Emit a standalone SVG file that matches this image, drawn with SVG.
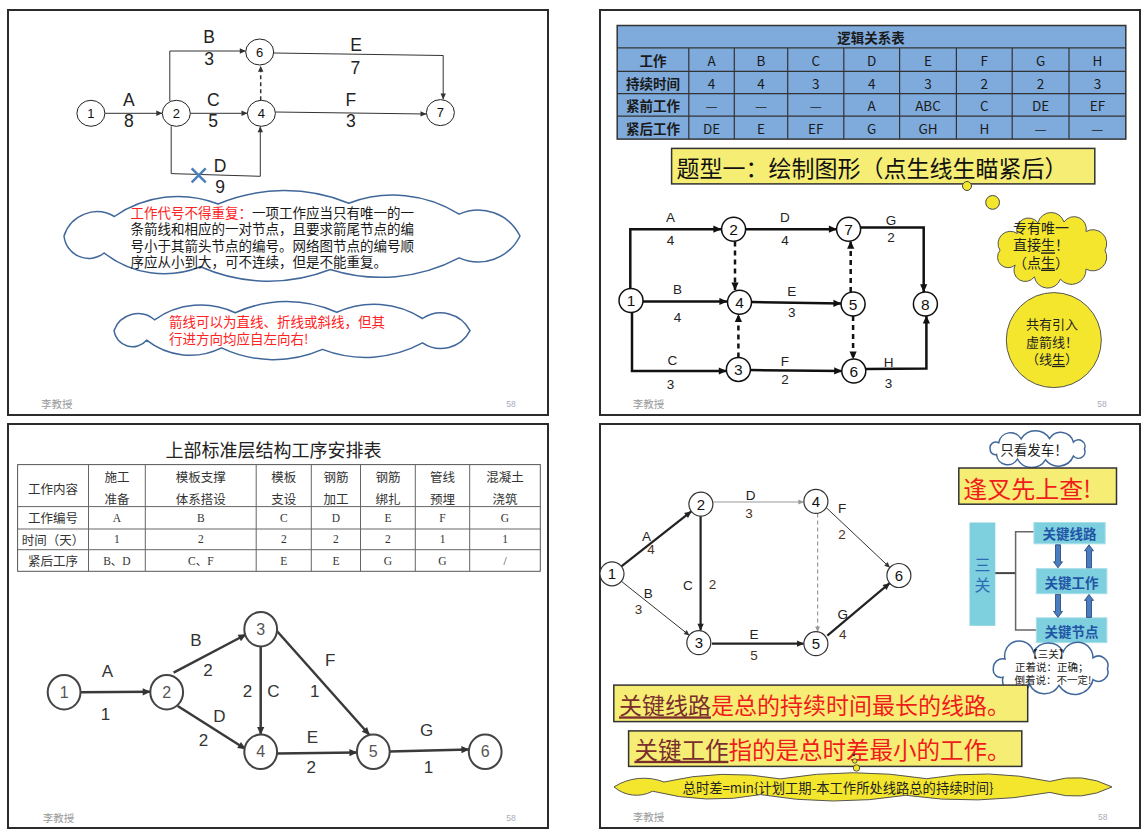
<svg xmlns="http://www.w3.org/2000/svg" width="1147" height="836" viewBox="0 0 1147 836">
<defs>
<style>
.cj{font-family:"Noto Sans CJK SC","Noto Sans CJK JP",sans-serif}
.m{text-anchor:middle}
.c{dominant-baseline:central}
.panel{fill:#fff;stroke:#2b2b2b;stroke-width:2}
.ft{font-family:"Noto Sans CJK SC",sans-serif;font-size:10.5px;fill:#9a9a9a}
.pg{font-family:"Liberation Sans",sans-serif;font-size:8.5px;fill:#aab}
.tlnode ellipse{fill:#fff;stroke:#222;stroke-width:1}
.tlnode text{font-family:"Liberation Sans",Arial,sans-serif;font-size:13px;fill:#111;text-anchor:middle;dominant-baseline:central}
.tl-lbl{font-family:"Liberation Sans",Arial,sans-serif;font-size:17.5px;fill:#222;text-anchor:middle}
.trnode circle{fill:#fff;stroke:#111;stroke-width:1.5}
.trnode text{font-family:"Liberation Sans",Arial,sans-serif;font-size:15.5px;fill:#111;text-anchor:middle;dominant-baseline:central}
.tr-lbl{font-family:"Liberation Sans",Arial,sans-serif;font-size:13.5px;fill:#222;text-anchor:middle;dominant-baseline:central}
.blnode ellipse{fill:#fff;stroke:#444;stroke-width:2}
.blnode text{font-family:"Liberation Sans",Arial,sans-serif;font-size:16px;fill:#555;text-anchor:middle;dominant-baseline:central}
.bl-lbl{font-family:"Liberation Sans",Arial,sans-serif;font-size:17px;fill:#333;text-anchor:middle;dominant-baseline:central}
.brnode circle{fill:#fff;stroke:#333;stroke-width:1.2}
.brnode text{font-family:"Liberation Sans",Arial,sans-serif;font-size:15px;fill:#111;text-anchor:middle;dominant-baseline:central}
.br-lbl{font-family:"Liberation Sans",Arial,sans-serif;font-size:13.5px;fill:#222;text-anchor:middle;dominant-baseline:central}
.br-num{font-family:"Liberation Sans",Arial,sans-serif;font-size:13.5px;fill:#4a321c;text-anchor:middle;dominant-baseline:central}
.tbl{font-family:"Noto Sans CJK SC",sans-serif;font-size:13.5px;fill:#1a1a1a;text-anchor:middle;dominant-baseline:central}
.tblb{font-weight:bold}
.bt{font-family:"Noto Sans CJK SC",sans-serif;font-size:12.5px;fill:#333;text-anchor:middle;dominant-baseline:central}
.bv{font-family:"Liberation Serif","Noto Sans CJK SC",serif;font-size:11.5px;fill:#333;text-anchor:middle;dominant-baseline:central}
.cloud{fill:#fff;stroke:#41679a;stroke-width:1.5}
.ycloud{fill:#f3e62c;stroke:#555;stroke-width:1}
.ybox{fill:#f6ee74;stroke:#333;stroke-width:1.5}
.cyan{fill:#7fd0df}
.kbox{fill:#7fd0df;stroke:#a9dfea;stroke-width:1}
.ktxt{font-family:"Noto Sans CJK SC",sans-serif;font-size:13.5px;font-weight:bold;fill:#1f55a5;text-anchor:middle;dominant-baseline:central}
.blk{fill:#4a7cc0;stroke:#1f3f70;stroke-width:0.8}
</style>
<marker id="mTL" viewBox="0 0 10 10" refX="9.5" refY="5" markerWidth="7" markerHeight="6" markerUnits="userSpaceOnUse" orient="auto"><path d="M0,0.5 L10,5 L0,9.5z" fill="#333"/></marker>
<marker id="mTR" viewBox="0 0 10 10" refX="9.5" refY="5" markerWidth="10" markerHeight="8" markerUnits="userSpaceOnUse" orient="auto"><path d="M0,0.5 L10,5 L0,9.5z" fill="#111"/></marker>
<marker id="mBL" viewBox="0 0 10 10" refX="9.5" refY="5" markerWidth="10" markerHeight="8" markerUnits="userSpaceOnUse" orient="auto"><path d="M0,0.5 L10,5 L0,9.5z" fill="#333"/></marker>
<marker id="mBRk" viewBox="0 0 10 10" refX="9.5" refY="5" markerWidth="9" markerHeight="7" markerUnits="userSpaceOnUse" orient="auto"><path d="M0,0.5 L10,5 L0,9.5z" fill="#222"/></marker>
<marker id="mBRt" viewBox="0 0 10 10" refX="9.5" refY="5" markerWidth="7" markerHeight="5.5" markerUnits="userSpaceOnUse" orient="auto"><path d="M0,0.5 L10,5 L0,9.5z" fill="#333"/></marker>
<marker id="mBRg" viewBox="0 0 10 10" refX="9.5" refY="5" markerWidth="7" markerHeight="5.5" markerUnits="userSpaceOnUse" orient="auto"><path d="M0,0.5 L10,5 L0,9.5z" fill="#999"/></marker>
<path id="dnArr" class="blk" d="M-2.5,0 H2.5 V17 H4.5 L0,23 L-4.5,17 H-2.5 Z"/>
<path id="upArr" class="blk" d="M-2.5,23 H2.5 V6 H4.5 L0,0 L-4.5,6 H-2.5 Z"/>
</defs>

<rect x="0" y="0" width="1147" height="836" fill="#fff"/>

<!-- Panels -->
<rect class="panel" x="8" y="10" width="540" height="405"/>
<rect class="panel" x="600" y="10" width="540" height="405"/>
<rect class="panel" x="8" y="424" width="540" height="404"/>
<rect class="panel" x="600" y="424" width="540" height="404"/>

<!-- ================= TOP LEFT ================= -->
<g id="tl-connectors" fill="none" stroke="#333" stroke-width="1">
  <line x1="104.7" y1="113.3" x2="162" y2="113.3" marker-end="url(#mTL)"/>
  <polyline points="169.8,101 169.8,51 245.5,51" marker-end="url(#mTL)"/>
  <polyline points="273.7,53 443.2,55.5 443.2,99.3" marker-end="url(#mTL)"/>
  <line x1="190.3" y1="113.3" x2="247.2" y2="113.3" marker-end="url(#mTL)"/>
  <line x1="260.7" y1="100.2" x2="260.7" y2="66" stroke-width="1.5" stroke-dasharray="4,3" marker-end="url(#mTL)"/>
  <line x1="275.4" y1="112" x2="426.2" y2="114" marker-end="url(#mTL)"/>
  <polyline points="171.2,126.3 171.2,173.6 260.3,176.3 260.3,126.5" marker-end="url(#mTL)"/>
</g>
<g id="tl-x" stroke="#4a7ebb" stroke-width="2.5">
  <line x1="191.7" y1="168.3" x2="205.7" y2="182.3"/>
  <line x1="191.7" y1="182.3" x2="205.7" y2="168.3"/>
</g>
<g id="tl-n1" class="tlnode"><ellipse cx="90.9" cy="113.3" rx="14" ry="13"/><text x="90.9" y="113.3">1</text></g>
<g id="tl-n2" class="tlnode"><ellipse cx="176.3" cy="113.3" rx="14" ry="13"/><text x="176.3" y="113.3">2</text></g>
<g id="tl-n6" class="tlnode"><ellipse cx="259.7" cy="52" rx="14" ry="13"/><text x="259.7" y="52">6</text></g>
<g id="tl-n4" class="tlnode"><ellipse cx="261.4" cy="113.3" rx="14" ry="13"/><text x="261.4" y="113.3">4</text></g>
<g id="tl-n7" class="tlnode"><ellipse cx="440.4" cy="112.6" rx="14" ry="13"/><text x="440.4" y="112.6">7</text></g>
<g id="tl-labels">
  <text class="tl-lbl" x="128.8" y="106.4">A</text><text class="tl-lbl" x="128.8" y="127">8</text>
  <text class="tl-lbl" x="209" y="43.4">B</text><text class="tl-lbl" x="209" y="65">3</text>
  <text class="tl-lbl" x="213.2" y="106.4">C</text><text class="tl-lbl" x="213.2" y="127">5</text>
  <text class="tl-lbl" x="356" y="51.3">E</text><text class="tl-lbl" x="355.4" y="74.4">7</text>
  <text class="tl-lbl" x="350.9" y="106.4">F</text><text class="tl-lbl" x="350.9" y="127">3</text>
  <text class="tl-lbl" x="220" y="171.8">D</text><text class="tl-lbl" x="220" y="192.5">9</text>
</g>
<g id="tl-cloud1">
  <path class="cloud" d="M64,236 A34.5,34.5 0 0 1 114.4,216.5 A111.5,111.5 0 0 1 218.1,204 A170.8,170.8 0 0 1 348.8,203.2 A124.5,124.5 0 0 1 459.1,214.1 A46.7,46.7 0 0 1 520,236 A46.7,46.7 0 0 1 459.1,257.9 A167.3,167.3 0 0 1 330.3,269.5 A168.5,168.5 0 0 1 200.5,266.8 A97.7,97.7 0 0 1 104.1,253 A24.8,24.8 0 0 1 64,236 Z"/>
  <text class="cj c" font-size="13.5" fill="#1a1a1a" x="130.5" y="211.7"><tspan fill="#f22">工作代号不得重复：</tspan>一项工作应当只有唯一的一<tspan x="130.5" dy="16.4">条箭线和相应的一对节点，且要求箭尾节点的编</tspan><tspan x="130.5" dy="16.4">号小于其箭头节点的编号。网络图节点的编号顺</tspan><tspan x="130.5" dy="16.4">序应从小到大，可不连续，但是不能重复。</tspan></text>
</g>
<g id="tl-cloud2">
  <path class="cloud" d="M114,330.7 A25.5,25.5 0 0 1 154.6,319.8 A79.9,79.9 0 0 1 235.2,312.8 A122.8,122.8 0 0 1 336.8,312.3 A89.4,89.4 0 0 1 422.5,318.5 A32.8,32.8 0 0 1 470,330.7 A32.8,32.8 0 0 1 422.5,342.9 A119.8,119.8 0 0 1 322.4,349.4 A121.2,121.2 0 0 1 221.5,347.9 A70,70 0 0 1 146.6,340.2 A18.6,18.6 0 0 1 114,330.7 Z"/>
  <text class="cj c" font-size="13.5" fill="#f22" x="169" y="321.2">箭线可以为直线、折线或斜线，但其<tspan x="169" dy="17.2">行进方向均应自左向右!</tspan></text>
</g>
<text class="ft c" x="41" y="403.8">李教授</text>
<text class="pg c m" x="511" y="403.8">58</text>

<!-- ================= TOP RIGHT ================= -->
<g id="tr-table">
  <rect x="617.2" y="25.5" width="508.6" height="113.6" fill="#7eaadc" stroke="#333" stroke-width="1.5"/>
  <g stroke="#333" stroke-width="1.2">
    <line x1="617.2" y1="47.9" x2="1125.8" y2="47.9"/>
    <line x1="617.2" y1="71.3" x2="1125.8" y2="71.3"/>
    <line x1="617.2" y1="93.7" x2="1125.8" y2="93.7"/>
    <line x1="617.2" y1="116.1" x2="1125.8" y2="116.1"/>
    <line x1="688.8" y1="47.9" x2="688.8" y2="139.1"/>
    <line x1="734.3" y1="47.9" x2="734.3" y2="139.1"/>
    <line x1="787.7" y1="47.9" x2="787.7" y2="139.1"/>
    <line x1="843.8" y1="47.9" x2="843.8" y2="139.1"/>
    <line x1="899.6" y1="47.9" x2="899.6" y2="139.1"/>
    <line x1="956.4" y1="47.9" x2="956.4" y2="139.1"/>
    <line x1="1012.2" y1="47.9" x2="1012.2" y2="139.1"/>
    <line x1="1069" y1="47.9" x2="1069" y2="139.1"/>
  </g>
  <text class="tbl tblb" x="871" y="36.7">逻辑关系表</text>
  <text class="tbl tblb" x="653" y="59.6">工作</text>
  <text class="tbl tblb" x="653" y="82.5">持续时间</text>
  <text class="tbl tblb" x="653" y="104.9">紧前工作</text>
  <text class="tbl tblb" x="653" y="127.6">紧后工作</text>
  <g>
    <text class="tbl" x="711.6" y="59.6">A</text><text class="tbl" x="761" y="59.6">B</text><text class="tbl" x="815.8" y="59.6">C</text><text class="tbl" x="871.7" y="59.6">D</text><text class="tbl" x="928" y="59.6">E</text><text class="tbl" x="984.3" y="59.6">F</text><text class="tbl" x="1040.6" y="59.6">G</text><text class="tbl" x="1097.4" y="59.6">H</text>
    <text class="tbl" x="711.6" y="82.5">4</text><text class="tbl" x="761" y="82.5">4</text><text class="tbl" x="815.8" y="82.5">3</text><text class="tbl" x="871.7" y="82.5">4</text><text class="tbl" x="928" y="82.5">3</text><text class="tbl" x="984.3" y="82.5">2</text><text class="tbl" x="1040.6" y="82.5">2</text><text class="tbl" x="1097.4" y="82.5">3</text>
    <text class="tbl" x="711.6" y="104.9">—</text><text class="tbl" x="761" y="104.9">—</text><text class="tbl" x="815.8" y="104.9">—</text><text class="tbl" x="871.7" y="104.9">A</text><text class="tbl" x="928" y="104.9">ABC</text><text class="tbl" x="984.3" y="104.9">C</text><text class="tbl" x="1040.6" y="104.9">DE</text><text class="tbl" x="1097.4" y="104.9">EF</text>
    <text class="tbl" x="711.6" y="127.6">DE</text><text class="tbl" x="761" y="127.6">E</text><text class="tbl" x="815.8" y="127.6">EF</text><text class="tbl" x="871.7" y="127.6">G</text><text class="tbl" x="928" y="127.6">GH</text><text class="tbl" x="984.3" y="127.6">H</text><text class="tbl" x="1040.6" y="127.6">—</text><text class="tbl" x="1097.4" y="127.6">—</text>
  </g>
</g>
<g id="tr-title">
  <rect class="ybox" x="671.6" y="148.4" width="423.2" height="35.5"/>
  <text class="cj c" x="676.4" y="166.7" font-size="23" fill="#111">题型一：绘制图形（点生线生瞄紧后）</text>
</g>
<g id="tr-bubbles" fill="#f3e62c" stroke="#444" stroke-width="1">
  <circle cx="944.4" cy="174.6" r="1.8"/>
  <circle cx="967" cy="186" r="4.5"/>
  <circle cx="992.6" cy="202.4" r="6.9"/>
</g>
<g id="tr-cloud">
  <path class="ycloud" d="M1000,250.3 A12.3,12.3 0 0 1 1017.3,233.5 A11.8,11.8 0 0 1 1038,222.8 A13.5,13.5 0 0 1 1064,222 A12.2,12.2 0 0 1 1086,231.5 A13.9,13.9 0 0 1 1105,250.3 A13.9,13.9 0 0 1 1086,269.1 A14.5,14.5 0 0 1 1060.4,279.2 A13.5,13.5 0 0 1 1034.4,276.8 A11.3,11.3 0 0 1 1015.2,265 A10.6,10.6 0 0 1 1000,250.3 Z"/>
  <text class="cj c" font-size="14" fill="#222" x="1013" y="226.5">专有唯一<tspan x="1013" dy="17.9">直接</tspan><tspan text-decoration="underline">生</tspan><tspan>！</tspan><tspan x="1013" dy="17.2">（点</tspan><tspan text-decoration="underline">生</tspan><tspan>）</tspan></text>
</g>
<g id="tr-circle">
  <circle cx="1053.8" cy="340.1" r="47.5" fill="#f3e62c" stroke="#555" stroke-width="1"/>
  <text class="cj c" font-size="13" fill="#222" x="1026" y="323.9">共有引入<tspan x="1026" dy="17.1">虚箭线！</tspan><tspan x="1026" dy="16.8">（线</tspan><tspan text-decoration="underline">生</tspan><tspan>）</tspan></text>
</g>
<g id="tr-connectors" fill="none" stroke="#111" stroke-width="2.5">
  <polyline points="630.3,288.5 630.3,229.2 721,229.2" marker-end="url(#mTR)"/>
  <line x1="643" y1="301.5" x2="727" y2="301.5" marker-end="url(#mTR)"/>
  <polyline points="632,312.5 632,371 726.4,371" marker-end="url(#mTR)"/>
  <line x1="745.7" y1="229.2" x2="836.5" y2="229.2" marker-end="url(#mTR)"/>
  <line x1="735" y1="241.5" x2="735" y2="290" stroke-dasharray="5,4" marker-end="url(#mTR)"/>
  <line x1="738.4" y1="357.5" x2="738.4" y2="314.3" stroke-dasharray="5,4" marker-end="url(#mTR)"/>
  <line x1="751.5" y1="302" x2="841" y2="303.5" marker-end="url(#mTR)"/>
  <line x1="850.7" y1="292" x2="850.7" y2="241.2" stroke-dasharray="5,4" marker-end="url(#mTR)"/>
  <line x1="853.1" y1="316" x2="853.1" y2="359" stroke-dasharray="5,4" marker-end="url(#mTR)"/>
  <line x1="750.5" y1="370" x2="841.8" y2="371" marker-end="url(#mTR)"/>
  <polyline points="860.7,227.5 923.7,227.5 923.7,291.9" marker-end="url(#mTR)"/>
  <polyline points="866,369 926.4,368.5 926.4,316" marker-end="url(#mTR)"/>
</g>
<g id="tr-n1" class="trnode"><circle cx="631" cy="300.5" r="12"/><text x="631" y="300.5">1</text></g>
<g id="tr-n2" class="trnode"><circle cx="733.6" cy="229.2" r="12"/><text x="733.6" y="229.2">2</text></g>
<g id="tr-n7" class="trnode"><circle cx="848.6" cy="229.2" r="12"/><text x="848.6" y="229.2">7</text></g>
<g id="tr-n4" class="trnode"><circle cx="739.5" cy="302.2" r="12"/><text x="739.5" y="302.2">4</text></g>
<g id="tr-n5" class="trnode"><circle cx="853.1" cy="304" r="12"/><text x="853.1" y="304">5</text></g>
<g id="tr-n8" class="trnode"><circle cx="925.4" cy="304" r="12"/><text x="925.4" y="304">8</text></g>
<g id="tr-n3" class="trnode"><circle cx="738.4" cy="369.4" r="12"/><text x="738.4" y="369.4">3</text></g>
<g id="tr-n6" class="trnode"><circle cx="853.8" cy="371.1" r="12"/><text x="853.8" y="371.1">6</text></g>
<g id="tr-labels">
  <text class="tr-lbl" x="670.6" y="217.2">A</text><text class="tr-lbl" x="670.6" y="240.3">4</text>
  <text class="tr-lbl" x="784.9" y="217.2">D</text><text class="tr-lbl" x="784.9" y="240.3">4</text>
  <text class="tr-lbl" x="891" y="220.3">G</text><text class="tr-lbl" x="891" y="237.9">2</text>
  <text class="tr-lbl" x="677.5" y="289.5">B</text><text class="tr-lbl" x="677.5" y="317.7">4</text>
  <text class="tr-lbl" x="791.8" y="291.2">E</text><text class="tr-lbl" x="791.8" y="312.6">3</text>
  <text class="tr-lbl" x="672.3" y="360.1">C</text><text class="tr-lbl" x="670.6" y="384.9">3</text>
  <text class="tr-lbl" x="784.9" y="361.5">F</text><text class="tr-lbl" x="784.9" y="379.7">2</text>
  <text class="tr-lbl" x="888.6" y="362.5">H</text><text class="tr-lbl" x="888.6" y="383.2">3</text>
</g>
<text class="ft c" x="632.7" y="403.8">李教授</text>
<text class="pg c m" x="1102" y="403.8">58</text>

<!-- ================= BOTTOM LEFT ================= -->
<text class="cj m c" x="273.4" y="449.1" font-size="18" fill="#222">上部标准层结构工序安排表</text>
<g id="bl-table">
  <rect x="17.6" y="464.6" width="522.7" height="106.7" fill="#fff" stroke="#555" stroke-width="1"/>
  <g stroke="#666" stroke-width="1">
    <line x1="17.6" y1="506.6" x2="540.3" y2="506.6"/>
    <line x1="17.6" y1="529" x2="540.3" y2="529"/>
    <line x1="17.6" y1="549.7" x2="540.3" y2="549.7"/>
    <line x1="88.5" y1="464.6" x2="88.5" y2="571.3"/>
    <line x1="145.3" y1="464.6" x2="145.3" y2="571.3"/>
    <line x1="256.2" y1="464.6" x2="256.2" y2="571.3"/>
    <line x1="311.3" y1="464.6" x2="311.3" y2="571.3"/>
    <line x1="360.5" y1="464.6" x2="360.5" y2="571.3"/>
    <line x1="415.3" y1="464.6" x2="415.3" y2="571.3"/>
    <line x1="469.7" y1="464.6" x2="469.7" y2="571.3"/>
  </g>
  <text class="bt" x="53" y="488.7">工作内容</text>
  <text class="bt" x="53" y="517.8">工作编号</text>
  <text class="bt" x="53" y="539.3">时间（天）</text>
  <text class="bt" x="53" y="560.5">紧后工序</text>
  <text class="bt" x="116.9" y="476.7">施工</text><text class="bt" x="116.9" y="498.3">准备</text>
  <text class="bt" x="200.8" y="476.7">模板支撑</text><text class="bt" x="200.8" y="498.3">体系搭设</text>
  <text class="bt" x="283.8" y="476.7">模板</text><text class="bt" x="283.8" y="498.3">支设</text>
  <text class="bt" x="335.9" y="476.7">钢筋</text><text class="bt" x="335.9" y="498.3">加工</text>
  <text class="bt" x="387.9" y="476.7">钢筋</text><text class="bt" x="387.9" y="498.3">绑扎</text>
  <text class="bt" x="442.5" y="476.7">管线</text><text class="bt" x="442.5" y="498.3">预埋</text>
  <text class="bt" x="505" y="476.7">混凝土</text><text class="bt" x="505" y="498.3">浇筑</text>
  <text class="bv" x="116.9" y="517.8">A</text><text class="bv" x="200.8" y="517.8">B</text><text class="bv" x="283.8" y="517.8">C</text><text class="bv" x="335.9" y="517.8">D</text><text class="bv" x="387.9" y="517.8">E</text><text class="bv" x="442.5" y="517.8">F</text><text class="bv" x="505" y="517.8">G</text>
  <text class="bv" x="116.9" y="539.3">1</text><text class="bv" x="200.8" y="539.3">2</text><text class="bv" x="283.8" y="539.3">2</text><text class="bv" x="335.9" y="539.3">2</text><text class="bv" x="387.9" y="539.3">2</text><text class="bv" x="442.5" y="539.3">1</text><text class="bv" x="505" y="539.3">1</text>
  <text class="bv" x="116.9" y="560.5">B、D</text><text class="bv" x="200.8" y="560.5">C、F</text><text class="bv" x="283.8" y="560.5">E</text><text class="bv" x="335.9" y="560.5">E</text><text class="bv" x="387.9" y="560.5">G</text><text class="bv" x="442.5" y="560.5">G</text><text class="bv" x="505" y="560.5">/</text>
</g>
<g id="bl-connectors" fill="none" stroke="#3a3a3a" stroke-width="2.5">
  <line x1="80.6" y1="692.2" x2="150.3" y2="691.8" marker-end="url(#mBL)"/>
  <line x1="173.6" y1="672.6" x2="246" y2="634.5" marker-end="url(#mBL)"/>
  <line x1="177.7" y1="706" x2="245.5" y2="749" marker-end="url(#mBL)"/>
  <line x1="260.7" y1="646.4" x2="260.7" y2="734.6" marker-end="url(#mBL)"/>
  <line x1="276.9" y1="631" x2="369.5" y2="735" marker-end="url(#mBL)"/>
  <line x1="276.9" y1="753.5" x2="357" y2="752.5" marker-end="url(#mBL)"/>
  <line x1="389.5" y1="751.5" x2="469" y2="749.5" marker-end="url(#mBL)"/>
</g>
<g id="bl-n1" class="blnode"><ellipse cx="64.1" cy="692.2" rx="16.4" ry="17.2"/><text x="64.1" y="692.2">1</text></g>
<g id="bl-n2" class="blnode"><ellipse cx="166.7" cy="692.2" rx="16.4" ry="17.2"/><text x="166.7" y="692.2">2</text></g>
<g id="bl-n3" class="blnode"><ellipse cx="260.7" cy="629.2" rx="16.4" ry="17.2"/><text x="260.7" y="629.2">3</text></g>
<g id="bl-n4" class="blnode"><ellipse cx="260.7" cy="751.8" rx="16.4" ry="17.2"/><text x="260.7" y="751.8">4</text></g>
<g id="bl-n5" class="blnode"><ellipse cx="373.3" cy="751.8" rx="16.4" ry="17.2"/><text x="373.3" y="751.8">5</text></g>
<g id="bl-n6" class="blnode"><ellipse cx="485.2" cy="751.8" rx="16.4" ry="17.2"/><text x="485.2" y="751.8">6</text></g>
<g id="bl-labels">
  <text class="bl-lbl" x="107.5" y="671.6">A</text><text class="bl-lbl" x="105.4" y="714.6">1</text>
  <text class="bl-lbl" x="196" y="640.6">B</text><text class="bl-lbl" x="208" y="670.6">2</text>
  <text class="bl-lbl" x="247.6" y="691.2">2</text><text class="bl-lbl" x="273.4" y="691.2">C</text>
  <text class="bl-lbl" x="330.2" y="660.2">F</text><text class="bl-lbl" x="314.8" y="691.2">1</text>
  <text class="bl-lbl" x="219.4" y="716.4">D</text><text class="bl-lbl" x="203.5" y="740.5">2</text>
  <text class="bl-lbl" x="312.3" y="737.7">E</text><text class="bl-lbl" x="311.3" y="767">2</text>
  <text class="bl-lbl" x="426.7" y="730.1">G</text><text class="bl-lbl" x="428.4" y="767">1</text>
</g>
<text class="ft c" x="42.7" y="817.8">李教授</text>
<text class="pg c m" x="511" y="817.8">58</text>

<!-- ================= BOTTOM RIGHT ================= -->
<g id="br-connectors" fill="none">
  <line x1="621.4" y1="566.4" x2="691.3" y2="511.4" stroke="#222" stroke-width="2.2" marker-end="url(#mBRk)"/>
  <line x1="621.4" y1="581.3" x2="689.3" y2="635.3" stroke="#333" stroke-width="1" marker-end="url(#mBRt)"/>
  <line x1="713.6" y1="502" x2="803.6" y2="502" stroke="#999" stroke-width="1.2" marker-end="url(#mBRg)"/>
  <line x1="700.6" y1="516.2" x2="700.6" y2="630.4" stroke="#222" stroke-width="2.2" marker-end="url(#mBRk)"/>
  <line x1="817.6" y1="513.5" x2="817.6" y2="631.6" stroke="#999" stroke-width="1.2" stroke-dasharray="4,3" marker-end="url(#mBRg)"/>
  <line x1="825.6" y1="507" x2="889.8" y2="567.5" stroke="#333" stroke-width="1" marker-end="url(#mBRt)"/>
  <line x1="711.9" y1="643.7" x2="803.7" y2="643.7" stroke="#222" stroke-width="2.2" marker-end="url(#mBRk)"/>
  <line x1="827.3" y1="635.7" x2="889.7" y2="583.2" stroke="#222" stroke-width="2.2" marker-end="url(#mBRk)"/>
</g>
<g id="br-n1" class="brnode"><circle cx="612" cy="573.8" r="12"/><text x="612" y="573.8">1</text></g>
<g id="br-n2" class="brnode"><circle cx="700.9" cy="504.2" r="12"/><text x="700.9" y="504.2">2</text></g>
<g id="br-n4" class="brnode"><circle cx="815.9" cy="501.4" r="12"/><text x="815.9" y="501.4">4</text></g>
<g id="br-n3" class="brnode"><circle cx="698.8" cy="642.6" r="12"/><text x="698.8" y="642.6">3</text></g>
<g id="br-n5" class="brnode"><circle cx="815.9" cy="643.7" r="12"/><text x="815.9" y="643.7">5</text></g>
<g id="br-n6" class="brnode"><circle cx="898.9" cy="575.5" r="12"/><text x="898.9" y="575.5">6</text></g>
<g id="br-labels">
  <text class="br-lbl" x="646.5" y="536.9">A</text><text class="br-num" x="651" y="549.7">4</text>
  <text class="br-lbl" x="648.2" y="593.7">B</text><text class="br-num" x="638.6" y="609.9">3</text>
  <text class="br-lbl" x="750.5" y="495.6">D</text><text class="br-num" x="749.1" y="513.8">3</text>
  <text class="br-lbl" x="687.8" y="585.8">C</text><text class="br-num" x="712.6" y="584.1">2</text>
  <text class="br-lbl" x="842.1" y="508.7">F</text><text class="br-num" x="842.1" y="534.2">2</text>
  <text class="br-lbl" x="842.8" y="614.4">G</text><text class="br-num" x="842.8" y="634.4">4</text>
  <text class="br-lbl" x="753.9" y="634">E</text><text class="br-num" x="753.9" y="655">5</text>
</g>
<g id="br-cloud-fache">
  <path class="cloud" d="M990.2,449.1 A5.8,5.8 0 0 1 998.7,442.8 A12.1,12.1 0 0 1 1021.2,438.9 A16.5,16.5 0 0 1 1049.5,438.6 A13.1,13.1 0 0 1 1073.4,442.1 A6.6,6.6 0 0 1 1084.4,449.1 A6.6,6.6 0 0 1 1073.4,456.1 A16.3,16.3 0 0 1 1045.5,459.8 A16.3,16.3 0 0 1 1017.4,459 A11.2,11.2 0 0 1 996.5,454.5 A5.1,5.1 0 0 1 990.2,449.1 Z"/>
  <text class="cj m c" x="1034" y="449.1" font-size="13.5" fill="#222">只看发车！</text>
</g>
<g id="br-fengcha">
  <rect class="ybox" x="958.8" y="468" width="157.7" height="36.2"/>
  <text class="cj c" x="963.3" y="487" font-size="24" fill="#f01c1c">逢叉先上查!</text>
</g>
<g id="br-sanguan">
  <rect class="cyan" x="969.5" y="522.5" width="25.8" height="103.3"/>
  <text class="cj m c" x="982.4" y="563.5" font-size="16" fill="#2c6bb5">三<tspan x="982.4" dy="20">关</tspan></text>
</g>
<g id="br-bracket" fill="none">
  <line x1="995.3" y1="573.1" x2="1015.6" y2="573.1" stroke="#444" stroke-width="2"/>
  <polyline points="1033.9,531.7 1015.6,531.7 1015.6,629.9 1036.3,629.9" stroke="#666" stroke-width="1.5"/>
</g>
<g id="br-k1"><rect class="kbox" x="1033.9" y="522.5" width="71.3" height="21.3"/><text class="ktxt" x="1069.5" y="533.1">关键线路</text></g>
<g id="br-k2"><rect class="kbox" x="1036.3" y="568.6" width="70.6" height="25.1"/><text class="ktxt" x="1071.6" y="581.6">关键工作</text></g>
<g id="br-k3"><rect class="kbox" x="1036.3" y="617.8" width="70.6" height="24.8"/><text class="ktxt" x="1071.6" y="630.6">关键节点</text></g>
<g id="br-karrows">
  <use href="#dnArr" x="1058" y="544.8"/>
  <use href="#upArr" x="1089" y="544.8"/>
  <use href="#dnArr" x="1058" y="594.4"/>
  <use href="#upArr" x="1089" y="594.4"/>
</g>
<g id="br-cloud-sanguan">
  <path class="cloud" d="M993.4,668.7 A9.5,9.5 0 0 1 1005,658.9 A14.5,14.5 0 0 1 1033.5,652.2 A16.8,16.8 0 0 1 1063.2,651.8 A15.5,15.5 0 0 1 1093,657.8 A9.5,9.5 0 0 1 1107.4,668.7 A9.5,9.5 0 0 1 1093,679.6 A18.5,18.5 0 0 1 1059,685.4 A16.7,16.7 0 0 1 1029.5,684.1 A13.5,13.5 0 0 1 1003,677.2 A7.5,7.5 0 0 1 993.4,668.7 Z"/>
  <text class="cj m c" font-size="10.5" fill="#222" x="1048.3" y="653.5">【三关】<tspan x="1051.7" dy="12.5">正着说：正确；</tspan><tspan x="1053" dy="13">倒着说：不一定!</tspan></text>
</g>
<g id="br-box1">
  <rect class="ybox" x="613.8" y="685.1" width="413.9" height="36.5"/>
  <text class="cj c" x="619" y="704.4" font-size="23"><tspan fill="#7a2e2e" text-decoration="underline">关键线路</tspan><tspan fill="#f01c1c">是总的持续时间最长的线路。</tspan></text>
</g>
<g id="br-box2">
  <rect class="ybox" x="628.6" y="730.9" width="393.2" height="35.5"/>
  <text class="cj c" x="634.4" y="748.8" font-size="23.5"><tspan fill="#7a2e2e" text-decoration="underline">关键工作</tspan><tspan fill="#f01c1c">指的是总时差最小的工作。</tspan></text>
</g>
<g id="br-bubbles">
  <circle cx="853.8" cy="755" r="1.3" fill="#333"/>
  <circle cx="854.8" cy="761" r="2.2" fill="#f3e62c" stroke="#333" stroke-width="0.8"/>
  <circle cx="856.5" cy="768" r="3.2" fill="#f3e62c" stroke="#333" stroke-width="0.8"/>
</g>
<g id="br-cloud-formula">
  <path class="ycloud" d="M614,786.9 A55.5,55.5 0 0 1 664,782 A283.8,283.8 0 0 1 780.1,778.9 A449.5,449.5 0 0 1 926.5,778.7 A320,320 0 0 1 1049.9,781.4 A83.8,83.8 0 0 1 1112,786.9 A83.8,83.8 0 0 1 1049.9,792.4 A435.6,435.6 0 0 1 905.8,795.3 A443.4,443.4 0 0 1 760.4,794.6 A246,246 0 0 1 652.5,791.2 A34.2,34.2 0 0 1 614,786.9 Z"/>
  <text class="cj c" x="682.6" y="787" font-size="13.3" fill="#222">总时差=min{计划工期-本工作所处线路总的持续时间}</text>
</g>
<text class="ft c" x="632.7" y="816.5">李教授</text>
<text class="pg c m" x="1102.7" y="816.5">58</text>
</svg>
